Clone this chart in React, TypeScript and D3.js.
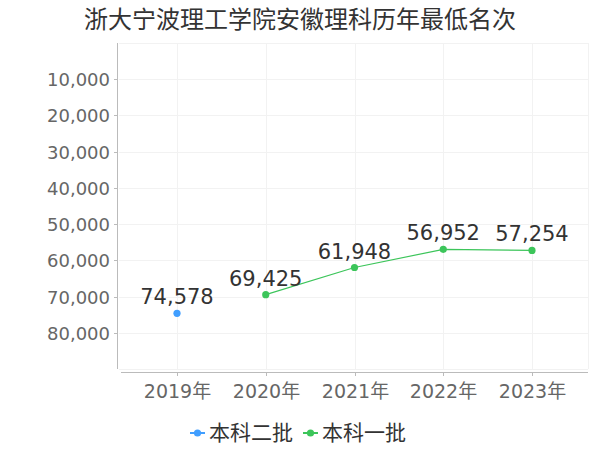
import React from 'react';
import * as d3 from 'd3';

const title = '浙大宁波理工学院安徽理科历年最低名次';
const years = ['2019年', '2020年', '2021年', '2022年', '2023年'];
const seriesNames = ['本科二批', '本科一批'];
const seriesColors = ['#409eff', '#3cc55a'];
const erpi: (number | null)[] = [74578, null, null, null, null];
const yipi: (number | null)[] = [null, 69425, 61948, 56952, 57254];
const yTicks = [10000, 20000, 30000, 40000, 50000, 60000, 70000, 80000];

const W = 600;
const H = 450;
const font = '"DejaVu Sans", "Noto Sans CJK SC", sans-serif';

const App = () => {
  const x = d3.scalePoint<string>().domain(years).range([121, 588]).padding(0.631);
  const y = d3.scaleLinear().domain([0, 90000]).range([42.7, 369.3]);
  const fmt = d3.format(',');
  const series = [erpi, yipi];
  const gridY = [0, ...yTicks, 90000];

  const line = d3
    .line<number | null>()
    .defined((d) => d !== null)
    .x((d, i) => x(years[i]) || 0)
    .y((d) => y(d as number));

  return (
    <svg width={W} height={H} style={{ display: 'block', position: 'absolute', left: 0, top: 0 }} fontFamily={font}>
      <rect width={W} height={H} fill="#fff" />
      <text x={300} y={28} textAnchor="middle" fontSize={24} fill="#333">
        {title}
      </text>

      <g stroke="#f2f2f2" strokeWidth={1}>
        {gridY.map((t) => (
          <line key={t} x1={119} x2={588} y1={Math.round(y(t)) + 0.5} y2={Math.round(y(t)) + 0.5} />
        ))}
        {years.map((yr) => (
          <line key={yr} x1={Math.round(x(yr) || 0) + 0.5} x2={Math.round(x(yr) || 0) + 0.5} y1={43} y2={369} />
        ))}
        <line x1={588.5} x2={588.5} y1={43} y2={369} />
      </g>

      <g>
        <line x1={117.5} x2={117.5} y1={43} y2={369} stroke="#bbb" />
        {yTicks.map((t) => (
          <g key={t} transform={`translate(0,${Math.round(y(t)) + 0.5})`}>
            <line x1={114} x2={117} stroke="#bbb" />
            <text x={110} dy="0.35em" textAnchor="end" fontSize={18} fill="#666">
              {fmt(t)}
            </text>
          </g>
        ))}
      </g>

      <g>
        <line x1={121} x2={588} y1={372.5} y2={372.5} stroke="#bbb" />
        {years.map((yr) => (
          <g key={yr} transform={`translate(${Math.round(x(yr) || 0) + 0.5},372)`}>
            <line y1={0} y2={4} stroke="#bbb" />
            <text y={26} textAnchor="middle" fontSize={19} fill="#666">
              {yr}
            </text>
          </g>
        ))}
      </g>

      {series.map((s, si) => (
        <g key={si}>
          <path d={line(s) || ''} fill="none" stroke={seriesColors[si]} strokeWidth={1.2} />
          {s.map((v, i) =>
            v === null ? null : (
              <g key={i}>
                <circle cx={x(years[i])} cy={y(v)} r={3.6} fill={seriesColors[si]} />
                <text x={x(years[i])} y={y(v) - 9} textAnchor="middle" fontSize={21} fill="#333">
                  {fmt(v)}
                </text>
              </g>
            ),
          )}
        </g>
      ))}

      <g transform="translate(190,433)">
        {seriesNames.map((n, i) => (
          <g key={n} transform={`translate(${i * 113},0)`}>
            <line x1={0} x2={15} stroke={seriesColors[i]} strokeWidth={2} />
            <circle cx={7.5} r={3.6} fill={seriesColors[i]} />
            <text x={19} dy="0.35em" fontSize={21} fill="#333">
              {n}
            </text>
          </g>
        ))}
      </g>
    </svg>
  );
};

export default App;
